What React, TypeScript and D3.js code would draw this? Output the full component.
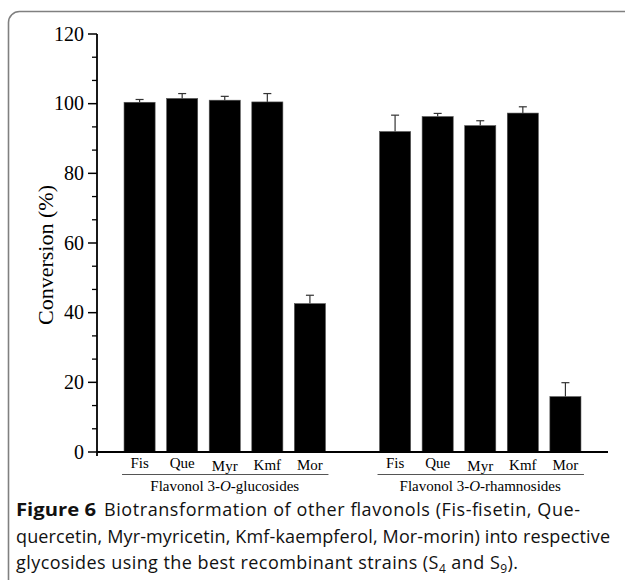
import React from "react";
import * as d3 from "d3";

const categories = ["Fis", "Que", "Myr", "Kmf", "Mor"];
const glucosideValues = [100.4, 101.5, 101.0, 100.5, 42.6];
const glucosideErrors = [0.8, 1.4, 1.1, 2.4, 2.4];
const rhamnosideValues = [92.0, 96.3, 93.7, 97.3, 15.9];
const rhamnosideErrors = [4.7, 0.9, 1.4, 1.8, 4.0];
const groupLabels = ["glucosides", "rhamnosides"];
const yTicks = [0, 20, 40, 60, 80, 100, 120];
const yAxisTitle = "Conversion (%)";

const W = 625;
const H = 580;
const serif = "'Liberation Serif', 'Times New Roman', serif";
const sans = "'Open Sans', 'Noto Sans', sans-serif";

export default function App() {
  const x0 = 97;
  const x1 = 608;
  const yZero = 452;
  const yTop = 34;

  const groups = [
    { prefix: "g", label: groupLabels[0], values: glucosideValues, errors: glucosideErrors },
    { prefix: "r", label: groupLabels[1], values: rhamnosideValues, errors: rhamnosideErrors },
  ];
  const keys = [
    ...categories.map((c) => "g-" + c),
    "gap",
    ...categories.map((c) => "r-" + c),
  ];
  const x = d3.scaleBand<string>().domain(keys).range([x0, x1]).paddingInner(0.27).paddingOuter(0.635);
  const y = d3.scaleLinear().domain([0, 120]).range([yZero, yTop]);
  const minorTicks = d3.range(0, 120, 20 / 3).filter((v) => Math.abs(v / 20 - Math.round(v / 20)) > 0.01);
  const labelDy: Record<string, number> = { Fis: 0, Que: 0, Myr: 3, Kmf: 2, Mor: 2 };

  return (
    <svg width={W} height={H} style={{ position: "absolute", left: 0, top: 0, background: "#fff" }}>
      <rect x={8.5} y={11.5} width={W + 40} height={H + 40} rx={11} fill="none" stroke="#808080" strokeWidth={1.6} />

      {/* bars */}
      {groups.map((g) =>
        categories.map((c, i) => {
          const k = g.prefix + "-" + c;
          const bx = x(k)!;
          const bw = x.bandwidth();
          const v = g.values[i];
          const e = g.errors[i];
          const cx = bx + bw / 2;
          return (
            <g key={k}>
              <line x1={cx} x2={cx} y1={y(v)} y2={y(v + e)} stroke="#333" strokeWidth={1.2} />
              <line x1={cx - 4} x2={cx + 4} y1={y(v + e)} y2={y(v + e)} stroke="#333" strokeWidth={1.2} />
              <rect x={bx} y={y(v)} width={bw} height={yZero - y(v)} fill="#000" stroke="#555" strokeWidth={0.6} />
            </g>
          );
        })
      )}

      {/* y axis */}
      <line x1={x0} x2={x0} y1={yTop} y2={yZero + 4} stroke="#000" strokeWidth={1.8} />
      {yTicks.map((t) => (
        <g key={t}>
          <line x1={x0 - 9} x2={x0} y1={y(t)} y2={y(t)} stroke="#000" strokeWidth={1.5} />
          <text x={x0 - 13} y={y(t)} dy="0.34em" textAnchor="end" fontFamily={serif} fontSize={20} fill="#000">
            {t}
          </text>
        </g>
      ))}
      {minorTicks.map((t) => (
        <line key={"m" + t} x1={x0 - 5} x2={x0} y1={y(t)} y2={y(t)} stroke="#000" strokeWidth={1.3} />
      ))}
      <text
        transform={`translate(45,${(yTop + yZero) / 2 + 12}) rotate(-90)`}
        textAnchor="middle"
        dy="0.35em"
        fontFamily={serif}
        fontSize={22}
        fill="#000"
      >
        {yAxisTitle}
      </text>

      {/* x axis */}
      <line x1={x0} x2={x1} y1={yZero} y2={yZero} stroke="#000" strokeWidth={1.8} />
      {groups.map((g) => {
        const first = x(g.prefix + "-" + categories[0])!;
        const last = x(g.prefix + "-" + categories[categories.length - 1])! + x.bandwidth();
        return (
          <g key={g.prefix}>
            {categories.map((c) => {
              const k = g.prefix + "-" + c;
              return (
                <text
                  key={k}
                  x={x(k)! + x.bandwidth() / 2}
                  y={468 + labelDy[c]}
                  textAnchor="middle"
                  fontFamily={serif}
                  fontSize={15}
                  fill="#000"
                >
                  {c}
                </text>
              );
            })}
            <line x1={first - 2} x2={last + 3} y1={474.5} y2={474.5} stroke="#555" strokeWidth={1} />
            <text x={(first + last) / 2} y={491} textAnchor="middle" fontFamily={serif} fontSize={15} fill="#000">
              Flavonol 3-<tspan fontStyle="italic">O</tspan>-{g.label}
            </text>
          </g>
        );
      })}

      {/* caption */}
      <g fontFamily={sans} fontSize={18} fill="#111">
        <text x={16} y={516} fontWeight="bold" textLength={80} lengthAdjust="spacingAndGlyphs">Figure 6</text>
        <text x={104} y={516} textLength={476} lengthAdjust="spacing">
          Biotransformation of other flavonols (Fis-fisetin, Que-
        </text>
        <text x={16} y={543} textLength={594} lengthAdjust="spacing">
          quercetin, Myr-myricetin, Kmf-kaempferol, Mor-morin) into respective
        </text>
        <text x={16} y={569} textLength={502} lengthAdjust="spacing">
          glycosides using the best recombinant strains (S<tspan fontSize={12} dy={4}>4</tspan>
          <tspan dy={-4}> and S</tspan>
          <tspan fontSize={12} dy={4}>9</tspan>
          <tspan dy={-4}>).</tspan>
        </text>
      </g>
    </svg>
  );
}
